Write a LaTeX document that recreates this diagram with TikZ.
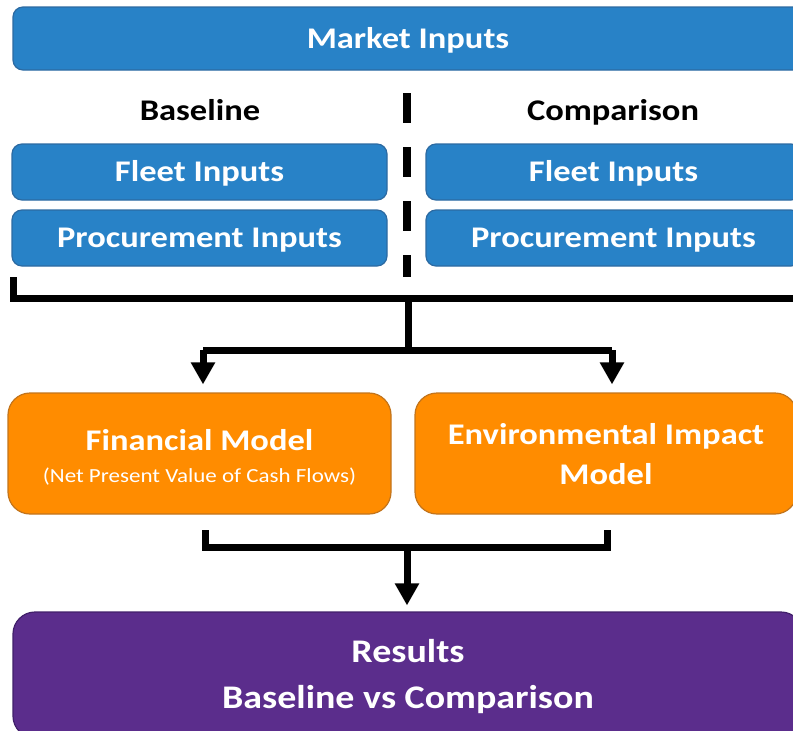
\documentclass[tikz,border=0pt]{standalone}
\usepackage{fontspec}
\setmainfont{Carlito}[FakeStretch=1.15]
\usetikzlibrary{arrows.meta}
\definecolor{inblue}{HTML}{2882C7}
\definecolor{inblueline}{HTML}{2C6AA2}
\definecolor{modorange}{HTML}{FF8C00}
\definecolor{modorangeline}{HTML}{C2741C}
\definecolor{respurple}{HTML}{5B2D8C}
\definecolor{respurpleline}{HTML}{41206A}

\begin{document}
\begin{tikzpicture}[x=1pt,y=-1pt,
        box/.style = {draw, line width=1.2pt, rounded corners=10pt, inner sep=0pt,
            align=center, text=white, font=\bfseries\fontsize{30}{36}\selectfont},
        oneline/.style = {text height=19.3pt, text depth=0pt},
        inbox/.style = {box, oneline, fill=inblue, draw=inblueline,
            minimum width=375pt, minimum height=56pt},
        modelbox/.style = {box, fill=modorange, draw=modorangeline,
            rounded corners=22pt, minimum width=383pt, minimum height=121pt},
        heading/.style = {anchor=base, font=\bfseries\fontsize{30}{36}\selectfont},
        flow/.style = {line width=7pt},
        arrow/.style = {flow, -{Triangle[width=23pt,length=22pt]}}]
    \clip (0,0) rectangle (793,731);
    % inputs
    \node[box, oneline, fill=inblue, draw=inblueline, minimum width=790pt,
        minimum height=63pt] (market) at (408,38.5) {Market Inputs};
    \node[heading] (base) at (200,120) {Baseline};
    \node[heading] (comp) at (613,120) {Comparison};
    \node[inbox] (fleetA) at (199.5,172) {Fleet Inputs};
    \node[inbox] (procA) at (199.5,238) {Procurement Inputs};
    \node[inbox] (fleetB) at (613.5,172) {Fleet Inputs};
    \node[inbox] (procB) at (613.5,238) {Procurement Inputs};
    % models
    \node[modelbox] (fin) at (199.5,453.5) {\rule{0pt}{33pt}Financial Model\\[-4pt]
        {\mdseries\fontsize{20}{24}\selectfont(Net Present Value of Cash Flows)\rule[-7pt]{0pt}{7pt}}};
    \node[modelbox, minimum width=382pt] (env) at (606,453.5)
        {\rule{0pt}{26pt}Environmental Impact\\[4pt]Model\rule[-4pt]{0pt}{4pt}};
    \node[box, fill=respurple, draw=respurpleline, rounded corners=22pt,
        minimum width=790pt, minimum height=126pt, font=\bfseries\fontsize{33}{40}\selectfont]
        (res) at (408,675)
        {\rule{0pt}{31pt}Results\\[6pt]Baseline vs Comparison\rule[-10pt]{0pt}{10pt}};
    % divider
    \coordinate (divT) at (407,93);
    \coordinate (divB) at (407,277);
    \draw[line width=8pt, dash pattern=on 30pt off 24pt] (divT) -- (divB);
    % connectors
    \coordinate (brL) at (13.5,277);
    \coordinate (brR) at (800,298.5);
    \coordinate (hub) at (408,298.5);
    \coordinate (armA) at (203,350);
    \coordinate (armB) at (612,350);
    \coordinate (split) at (408,350);
    \draw[flow] (brL) |- (brR);
    \draw[flow] (hub) -- (split);
    \draw[flow] (armA) -- (armB);
    \draw[arrow, shorten >=8pt] (armA) -- (armA |- fin.north);
    \draw[arrow, shorten >=8pt] (armB) -- (armB |- env.north);
    \coordinate (joinA) at (205,530);
    \coordinate (joinB) at (607,530);
    \coordinate (merge) at (407,547);
    \draw[flow] (joinA) |- (merge) -| (joinB);
    \draw[arrow, shorten >=6pt] (merge) -- (merge |- res.north);
\end{tikzpicture}
\end{document}
